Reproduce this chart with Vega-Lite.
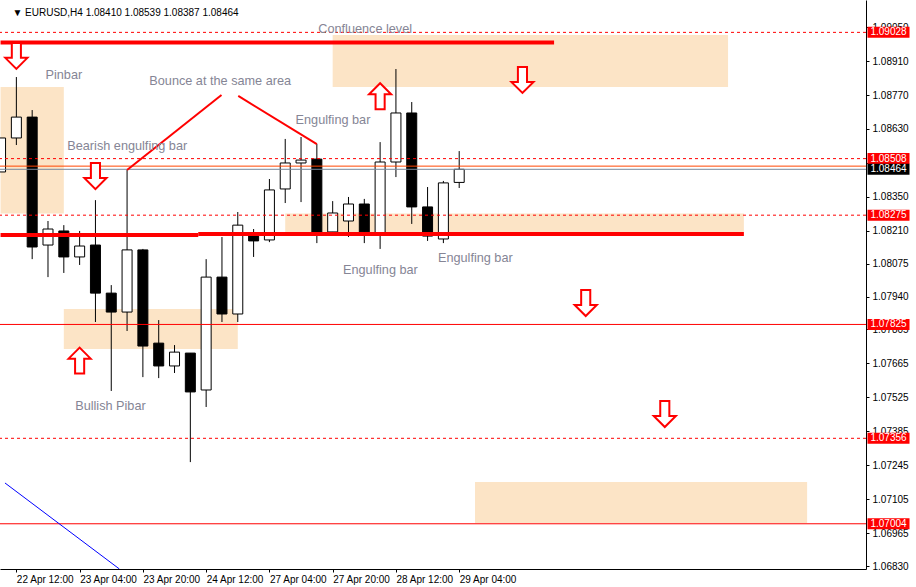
{
  "$schema": "https://vega.github.io/schema/vega-lite/v6.json",
  "width": 866,
  "height": 569,
  "autosize": "none",
  "padding": {"left": 0, "top": 0, "right": 50, "bottom": 18},
  "background": "white",
  "resolve": {"axis": {"x": "independent", "y": "independent"}},
  "config": {
    "view": {"stroke": null},
    "font": "Liberation Sans",
    "axisX": {"labelAlign": "left", "labelFontSize": 10, "labelColor": "black", "tickColor": "black", "domainColor": "black", "tickSize": 3, "labelPadding": 2, "grid": false, "title": null, "labelFlush": false, "labelOverlap": false, "labelBound": false, "labelFont": "Liberation Sans"},
    "axisY": {"labelFontSize": 10, "labelColor": "black", "tickColor": "black", "domainColor": "black", "tickSize": 3, "labelPadding": 3, "grid": false, "title": null, "zindex": 0, "labelFlush": false, "labelOverlap": false, "labelBound": false, "labelFont": "Liberation Sans"}
  },
  "datasets": {
    "candles": [
      {"i": -1, "t": "22 Apr 08:00", "o": 1.08453, "h": 1.08593, "l": 1.08453, "c": 1.08593},
      {"i": 0, "t": "22 Apr 12:00", "o": 1.08593, "h": 1.08844, "l": 1.08564, "c": 1.08679},
      {"i": 1, "t": "22 Apr 16:00", "o": 1.08679, "h": 1.08708, "l": 1.08094, "c": 1.08144},
      {"i": 2, "t": "22 Apr 20:00", "o": 1.08152, "h": 1.08251, "l": 1.08020, "c": 1.08218},
      {"i": 3, "t": "23 Apr 00:00", "o": 1.08210, "h": 1.08234, "l": 1.08037, "c": 1.08103},
      {"i": 4, "t": "23 Apr 04:00", "o": 1.08103, "h": 1.08210, "l": 1.08070, "c": 1.08148},
      {"i": 5, "t": "23 Apr 08:00", "o": 1.08152, "h": 1.08337, "l": 1.07835, "c": 1.07954},
      {"i": 6, "t": "23 Apr 12:00", "o": 1.07954, "h": 1.07987, "l": 1.07551, "c": 1.07876},
      {"i": 7, "t": "23 Apr 16:00", "o": 1.07876, "h": 1.08461, "l": 1.07798, "c": 1.08132},
      {"i": 8, "t": "23 Apr 20:00", "o": 1.08132, "h": 1.08136, "l": 1.07608, "c": 1.07736},
      {"i": 9, "t": "24 Apr 00:00", "o": 1.07748, "h": 1.07843, "l": 1.07604, "c": 1.07654},
      {"i": 10, "t": "24 Apr 04:00", "o": 1.07654, "h": 1.07740, "l": 1.07625, "c": 1.07711},
      {"i": 11, "t": "24 Apr 08:00", "o": 1.07707, "h": 1.07707, "l": 1.07258, "c": 1.07547},
      {"i": 12, "t": "24 Apr 12:00", "o": 1.07555, "h": 1.08094, "l": 1.07485, "c": 1.08020},
      {"i": 13, "t": "24 Apr 16:00", "o": 1.08020, "h": 1.08185, "l": 1.07835, "c": 1.07868},
      {"i": 14, "t": "24 Apr 20:00", "o": 1.07868, "h": 1.08288, "l": 1.07835, "c": 1.08234},
      {"i": 15, "t": "27 Apr 00:00", "o": 1.08202, "h": 1.08218, "l": 1.08103, "c": 1.08169},
      {"i": 16, "t": "27 Apr 04:00", "o": 1.08173, "h": 1.08424, "l": 1.08164, "c": 1.08379},
      {"i": 17, "t": "27 Apr 08:00", "o": 1.08383, "h": 1.08589, "l": 1.08325, "c": 1.08490},
      {"i": 18, "t": "27 Apr 12:00", "o": 1.08490, "h": 1.08597, "l": 1.08329, "c": 1.08502},
      {"i": 19, "t": "27 Apr 16:00", "o": 1.08506, "h": 1.08568, "l": 1.08160, "c": 1.08202},
      {"i": 20, "t": "27 Apr 20:00", "o": 1.08206, "h": 1.08333, "l": 1.08202, "c": 1.08284},
      {"i": 21, "t": "28 Apr 00:00", "o": 1.08251, "h": 1.08350, "l": 1.08185, "c": 1.08321},
      {"i": 22, "t": "28 Apr 04:00", "o": 1.08321, "h": 1.08342, "l": 1.08160, "c": 1.08206},
      {"i": 23, "t": "28 Apr 08:00", "o": 1.08202, "h": 1.08576, "l": 1.08136, "c": 1.08494},
      {"i": 24, "t": "28 Apr 12:00", "o": 1.08494, "h": 1.08877, "l": 1.08432, "c": 1.08696},
      {"i": 25, "t": "28 Apr 16:00", "o": 1.08696, "h": 1.08741, "l": 1.08239, "c": 1.08309},
      {"i": 26, "t": "28 Apr 20:00", "o": 1.08309, "h": 1.08391, "l": 1.08169, "c": 1.08189},
      {"i": 27, "t": "29 Apr 00:00", "o": 1.08177, "h": 1.08416, "l": 1.08160, "c": 1.08408},
      {"i": 28, "t": "29 Apr 04:00", "o": 1.08410, "h": 1.08539, "l": 1.08387, "c": 1.08464}
    ],
    "zones": [
      {"i1": -1, "i2": 3, "p1": 1.08803, "p2": 1.08282},
      {"i1": 3, "i2": 14, "p1": 1.07889, "p2": 1.07724},
      {"i1": 20, "i2": 45, "p1": 1.09017, "p2": 1.08803},
      {"i1": 17, "i2": 46, "p1": 1.08282, "p2": 1.08193},
      {"i1": 29, "i2": 50, "p1": 1.07176, "p2": 1.07007}
    ],
    "levels": [
      {"p": 1.09028, "kind": "dash"},
      {"p": 1.08508, "kind": "dash"},
      {"p": 1.08275, "kind": "dash"},
      {"p": 1.07356, "kind": "dash"},
      {"p": 1.07825, "kind": "solid"},
      {"p": 1.07004, "kind": "solid"},
      {"p": 1.08477, "kind": "ask"},
      {"p": 1.08464, "kind": "bid"}
    ],
    "segments": [
      {"i1": -1, "i2": 34, "p1": 1.08986, "p2": 1.08986, "kind": "thick"},
      {"i1": -1, "i2": 11.5, "p1": 1.08193, "p2": 1.08193, "kind": "thick"},
      {"i1": 11.5, "i2": 46, "p1": 1.08197, "p2": 1.08197, "kind": "thick"},
      {"i1": 7, "i2": 12.97, "p1": 1.08461, "p2": 1.08770, "kind": "bounce"},
      {"i1": 14.03, "i2": 19, "p1": 1.08766, "p2": 1.08568, "kind": "bounce"},
      {"i1": -0.72, "i2": 6.51, "p1": 1.07172, "p2": 1.06818, "kind": "trend"}
    ],
    "arrows": [
      {"i": 0, "p": 1.08931, "dir": "down"},
      {"i": 5, "p": 1.08436, "dir": "down"},
      {"i": 32, "p": 1.08832, "dir": "down"},
      {"i": 36, "p": 1.07913, "dir": "down"},
      {"i": 41, "p": 1.07456, "dir": "down"},
      {"i": 4, "p": 1.07676, "dir": "up"},
      {"i": 23, "p": 1.08765, "dir": "up"}
    ],
    "notes": [
      {"i": 19.09, "p": 1.09042, "text": "Confluence level"},
      {"i": 1.844, "p": 1.08852, "text": "Pinbar"},
      {"i": 8.406, "p": 1.08826, "text": "Bounce at the same area"},
      {"i": 3.219, "p": 1.08560, "text": "Bearish engulfing bar"},
      {"i": 17.656, "p": 1.08667, "text": "Engulfing bar"},
      {"i": 20.656, "p": 1.08049, "text": "Engulfing bar"},
      {"i": 26.656, "p": 1.08099, "text": "Engulfing bar"},
      {"i": 3.719, "p": 1.07489, "text": "Bullish Pibar"}
    ],
    "header": [
      {"i": -0.25, "p": 1.09108, "text": "▼ EURUSD,H4  1.08410 1.08539 1.08387 1.08464"}
    ],
    "tags": [
      {"p": 1.09028, "label": "1.09028", "kind": "red"},
      {"p": 1.08508, "label": "1.08508", "kind": "red"},
      {"p": 1.08275, "label": "1.08275", "kind": "red"},
      {"p": 1.07825, "label": "1.07825", "kind": "red"},
      {"p": 1.07356, "label": "1.07356", "kind": "red"},
      {"p": 1.07004, "label": "1.07004", "kind": "red"},
      {"p": 1.08464, "label": "1.08464", "kind": "black"}
    ]
  },
  "layer": [
    {
      "data": {"name": "zones"},
      "mark": {"type": "rect", "color": "#FCE4C6", "clip": true},
      "encoding": {
        "x": {"field": "i1", "type": "quantitative", "title": null, "scale": {"domain": [-0.71875, 53.40625], "nice": false, "zero": false},
          "axis": {"values": [0, 4, 8, 12, 16, 20, 24, 28], "labelExpr": "['22 Apr 12:00','23 Apr 04:00','23 Apr 20:00','24 Apr 12:00','27 Apr 04:00','27 Apr 20:00','28 Apr 12:00','29 Apr 04:00'][round(datum.value/4)]", "labelAlign": "left", "labelOverlap": false, "labelFontSize": 10, "title": null}},
        "x2": {"field": "i2"},
        "y": {"field": "p1", "type": "quantitative", "title": null, "scale": {"domain": [1.068177, 1.091613], "nice": false, "zero": false},
          "axis": {"orient": "right", "values": [1.0905, 1.0891, 1.0877, 1.0863, 1.0849, 1.0835, 1.0821, 1.08075, 1.0794, 1.07805, 1.07665, 1.07525, 1.07385, 1.07245, 1.07105, 1.06965, 1.0683], "format": ".5f", "labelOverlap": false, "labelFontSize": 10, "labelBound": false, "labelFlush": false, "title": null, "zindex": 0}},
        "y2": {"field": "p2"}
      }
    },
    {
      "data": {"name": "candles"},
      "mark": {"type": "rule", "color": "black", "strokeWidth": 1, "clip": true},
      "encoding": {
        "x": {"field": "i", "type": "quantitative", "axis": null, "scale": {"domain": [-0.71875, 53.40625], "nice": false, "zero": false}},
        "y": {"field": "l", "type": "quantitative", "axis": null, "scale": {"domain": [1.068177, 1.091613], "nice": false, "zero": false}},
        "y2": {"field": "h"}
      }
    },
    {
      "data": {"name": "candles"},
      "mark": {"type": "bar", "orient": "vertical", "size": 10, "stroke": "black", "strokeWidth": 1, "clip": true},
      "encoding": {
        "x": {"field": "i", "type": "quantitative", "axis": null, "scale": {"domain": [-0.71875, 53.40625], "nice": false, "zero": false}},
        "y": {"field": "o", "type": "quantitative", "axis": null, "scale": {"domain": [1.068177, 1.091613], "nice": false, "zero": false}},
        "y2": {"field": "c"},
        "fill": {"condition": {"test": "datum.c >= datum.o", "value": "white"}, "value": "black"}
      }
    },
    {
      "data": {"name": "levels"},
      "transform": [{"filter": "datum.kind == 'dash'"}],
      "mark": {"type": "rule", "color": "#FF0000", "strokeWidth": 1, "strokeDash": [3, 3]},
      "encoding": {
        "y": {"field": "p", "type": "quantitative", "axis": null, "scale": {"domain": [1.068177, 1.091613], "nice": false, "zero": false}}
      }
    },
    {
      "data": {"name": "levels"},
      "transform": [{"filter": "datum.kind == 'solid'"}],
      "mark": {"type": "rule", "color": "#FF0000", "strokeWidth": 1},
      "encoding": {
        "y": {"field": "p", "type": "quantitative", "axis": null, "scale": {"domain": [1.068177, 1.091613], "nice": false, "zero": false}}
      }
    },
    {
      "data": {"name": "levels"},
      "transform": [{"filter": "datum.kind == 'ask'"}],
      "mark": {"type": "rule", "color": "#FF4500", "strokeWidth": 1},
      "encoding": {
        "y": {"field": "p", "type": "quantitative", "axis": null, "scale": {"domain": [1.068177, 1.091613], "nice": false, "zero": false}}
      }
    },
    {
      "data": {"name": "levels"},
      "transform": [{"filter": "datum.kind == 'bid'"}],
      "mark": {"type": "rule", "color": "#778899", "strokeWidth": 1},
      "encoding": {
        "y": {"field": "p", "type": "quantitative", "axis": null, "scale": {"domain": [1.068177, 1.091613], "nice": false, "zero": false}}
      }
    },
    {
      "data": {"name": "segments"},
      "transform": [{"filter": "datum.kind == 'thick'"}],
      "mark": {"type": "rule", "color": "#FF0000", "strokeWidth": 4, "clip": true},
      "encoding": {
        "x": {"field": "i1", "type": "quantitative", "axis": null, "scale": {"domain": [-0.71875, 53.40625], "nice": false, "zero": false}},
        "x2": {"field": "i2"},
        "y": {"field": "p1", "type": "quantitative", "axis": null, "scale": {"domain": [1.068177, 1.091613], "nice": false, "zero": false}},
        "y2": {"field": "p2"}
      }
    },
    {
      "data": {"name": "segments"},
      "transform": [{"filter": "datum.kind == 'bounce'"}],
      "mark": {"type": "rule", "color": "#FF0000", "strokeWidth": 2, "clip": true},
      "encoding": {
        "x": {"field": "i1", "type": "quantitative", "axis": null, "scale": {"domain": [-0.71875, 53.40625], "nice": false, "zero": false}},
        "x2": {"field": "i2"},
        "y": {"field": "p1", "type": "quantitative", "axis": null, "scale": {"domain": [1.068177, 1.091613], "nice": false, "zero": false}},
        "y2": {"field": "p2"}
      }
    },
    {
      "data": {"name": "segments"},
      "transform": [{"filter": "datum.kind == 'trend'"}],
      "mark": {"type": "rule", "color": "#0000FF", "strokeWidth": 1, "clip": true},
      "encoding": {
        "x": {"field": "i1", "type": "quantitative", "axis": null, "scale": {"domain": [-0.71875, 53.40625], "nice": false, "zero": false}},
        "x2": {"field": "i2"},
        "y": {"field": "p1", "type": "quantitative", "axis": null, "scale": {"domain": [1.068177, 1.091613], "nice": false, "zero": false}},
        "y2": {"field": "p2"}
      }
    },
    {
      "data": {"name": "arrows"},
      "transform": [{"filter": "datum.dir == 'down'"}],
      "mark": {"type": "point", "shape": "M-0.35,-1L0.35,-1L0.35,0.15L0.85,0.15L0,1L-0.85,0.15L-0.35,0.15Z", "size": 676, "filled": true, "fill": "white", "stroke": "#FF0000", "strokeWidth": 2, "opacity": 1, "clip": true},
      "encoding": {
        "x": {"field": "i", "type": "quantitative", "axis": null, "scale": {"domain": [-0.71875, 53.40625], "nice": false, "zero": false}},
        "y": {"field": "p", "type": "quantitative", "axis": null, "scale": {"domain": [1.068177, 1.091613], "nice": false, "zero": false}}
      }
    },
    {
      "data": {"name": "arrows"},
      "transform": [{"filter": "datum.dir == 'up'"}],
      "mark": {"type": "point", "shape": "M-0.35,1L0.35,1L0.35,-0.15L0.85,-0.15L0,-1L-0.85,-0.15L-0.35,-0.15Z", "size": 676, "filled": true, "fill": "white", "stroke": "#FF0000", "strokeWidth": 2, "opacity": 1, "clip": true},
      "encoding": {
        "x": {"field": "i", "type": "quantitative", "axis": null, "scale": {"domain": [-0.71875, 53.40625], "nice": false, "zero": false}},
        "y": {"field": "p", "type": "quantitative", "axis": null, "scale": {"domain": [1.068177, 1.091613], "nice": false, "zero": false}}
      }
    },
    {
      "data": {"name": "notes"},
      "mark": {"type": "text", "align": "left", "baseline": "middle", "fontSize": 12.7, "color": "#858595", "font": "Liberation Sans"},
      "encoding": {
        "x": {"field": "i", "type": "quantitative", "axis": null, "scale": {"domain": [-0.71875, 53.40625], "nice": false, "zero": false}},
        "y": {"field": "p", "type": "quantitative", "axis": null, "scale": {"domain": [1.068177, 1.091613], "nice": false, "zero": false}},
        "text": {"field": "text"}
      }
    },
    {
      "data": {"name": "header"},
      "mark": {"type": "text", "align": "left", "baseline": "middle", "fontSize": 10, "color": "black", "font": "Liberation Sans"},
      "encoding": {
        "x": {"field": "i", "type": "quantitative", "axis": null, "scale": {"domain": [-0.71875, 53.40625], "nice": false, "zero": false}},
        "y": {"field": "p", "type": "quantitative", "axis": null, "scale": {"domain": [1.068177, 1.091613], "nice": false, "zero": false}},
        "text": {"field": "text"}
      }
    },
    {
      "data": {"name": "tags"},
      "mark": {"type": "point", "shape": "M-1,-0.262L1,-0.262L1,0.262L-1,0.262Z", "size": 1764, "filled": true, "opacity": 1, "strokeWidth": 0, "xOffset": 22.5, "clip": false},
      "encoding": {
        "x": {"value": "width"},
        "y": {"field": "p", "type": "quantitative", "axis": null, "scale": {"domain": [1.068177, 1.091613], "nice": false, "zero": false}},
        "fill": {"condition": {"test": "datum.kind == 'black'", "value": "#000000"}, "value": "#FF0000"}
      }
    },
    {
      "data": {"name": "tags"},
      "mark": {"type": "text", "align": "center", "baseline": "middle", "fontSize": 10, "color": "white", "dx": 22.5, "font": "Liberation Sans"},
      "encoding": {
        "x": {"value": "width"},
        "y": {"field": "p", "type": "quantitative", "axis": null, "scale": {"domain": [1.068177, 1.091613], "nice": false, "zero": false}},
        "text": {"field": "label"}
      }
    }
  ]
}
